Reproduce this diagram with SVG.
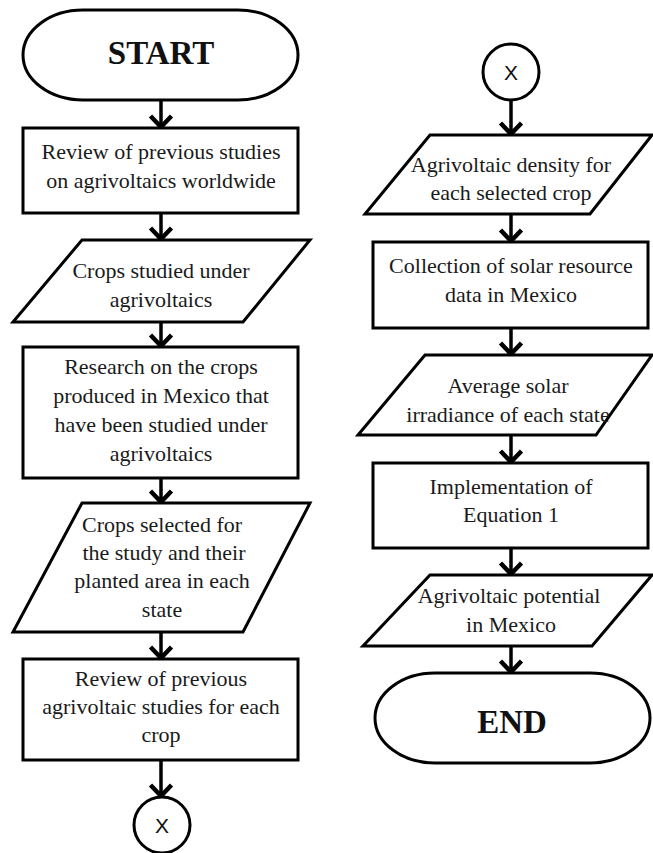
<svg xmlns="http://www.w3.org/2000/svg" width="653" height="853" viewBox="0 0 653 853">
  <defs>
    <marker id="chev" viewBox="0 -13 19 26" refX="15" refY="0" markerWidth="19" markerHeight="26" markerUnits="userSpaceOnUse" orient="auto">
      <path d="M3,-10.5 L14,0 L3,10.5" fill="none" stroke="#000" stroke-width="4.5" stroke-linejoin="miter"/>
    </marker>
  </defs>
  <style>
    .shape { fill: #fff; stroke: #000; stroke-width: 3; }
    .lbl { font-family: "Liberation Serif", "Times New Roman", serif; font-size: 22px; fill: #1a1a1a; text-anchor: middle; }
    .term { font-family: "Liberation Serif", "Times New Roman", serif; font-size: 33px; font-weight: bold; fill: #111; text-anchor: middle; }
    .conn-lbl { font-family: "Liberation Sans", Arial, sans-serif; font-size: 21px; fill: #111; text-anchor: middle; }
    .arrow { stroke: #000; stroke-width: 3.5; fill: none; marker-end: url(#chev); }
  </style>

  <rect width="653" height="853" fill="#fff"/>

  <!-- connectors -->
  <g id="connectors">
    <line class="arrow" x1="161" y1="100" x2="161" y2="128"/>
    <line class="arrow" x1="161" y1="213" x2="161" y2="240"/>
    <line class="arrow" x1="161" y1="322" x2="161" y2="347"/>
    <line class="arrow" x1="161" y1="478" x2="161" y2="503"/>
    <line class="arrow" x1="161" y1="632" x2="161" y2="659"/>
    <line class="arrow" x1="161" y1="760" x2="161" y2="797"/>

    <line class="arrow" x1="511" y1="100" x2="511" y2="135"/>
    <line class="arrow" x1="511" y1="214" x2="511" y2="242"/>
    <line class="arrow" x1="511" y1="328" x2="511" y2="355"/>
    <line class="arrow" x1="511" y1="435" x2="511" y2="463"/>
    <line class="arrow" x1="511" y1="548" x2="511" y2="575"/>
    <line class="arrow" x1="511" y1="646" x2="511" y2="673"/>
  </g>

  <!-- left column -->
  <g id="start">
    <rect class="shape" x="23" y="10" width="275" height="90" rx="60" ry="45"/>
    <text class="term" x="161" y="64">START</text>
  </g>

  <g id="review-worldwide">
    <rect class="shape" x="23" y="128" width="275" height="85"/>
    <text class="lbl" x="161" y="159">Review of previous studies</text>
    <text class="lbl" x="161" y="188">on agrivoltaics worldwide</text>
  </g>

  <g id="crops-studied">
    <polygon class="shape" points="82,240 310,240 243,322 13,322"/>
    <text class="lbl" x="161" y="278">Crops studied under</text>
    <text class="lbl" x="161" y="307">agrivoltaics</text>
  </g>

  <g id="research-mexico">
    <rect class="shape" x="23" y="347" width="275" height="131"/>
    <text class="lbl" x="161" y="374">Research on the crops</text>
    <text class="lbl" x="161" y="403">produced in Mexico that</text>
    <text class="lbl" x="161" y="432">have been studied under</text>
    <text class="lbl" x="161" y="461">agrivoltaics</text>
  </g>

  <g id="crops-selected">
    <polygon class="shape" points="82,503 310,503 243,632 13,632"/>
    <text class="lbl" x="162" y="532">Crops selected for</text>
    <text class="lbl" x="164" y="560">the study and their</text>
    <text class="lbl" x="162" y="588">planted area in each</text>
    <text class="lbl" x="162" y="617">state</text>
  </g>

  <g id="review-per-crop">
    <rect class="shape" x="23" y="659" width="275" height="101"/>
    <text class="lbl" x="161" y="686">Review of previous</text>
    <text class="lbl" x="161" y="714">agrivoltaic studies for each</text>
    <text class="lbl" x="161" y="742">crop</text>
  </g>

  <g id="connector-out">
    <circle class="shape" cx="162" cy="825" r="28"/>
    <text class="conn-lbl" x="162" y="833">X</text>
  </g>

  <!-- right column -->
  <g id="connector-in">
    <circle class="shape" cx="511" cy="72" r="28"/>
    <text class="conn-lbl" x="511" y="80">X</text>
  </g>

  <g id="density">
    <polygon class="shape" points="430,135 652,135 590,214 365,214"/>
    <text class="lbl" x="511" y="172">Agrivoltaic density for</text>
    <text class="lbl" x="511" y="200">each selected crop</text>
  </g>

  <g id="solar-data">
    <rect class="shape" x="373" y="242" width="275" height="86"/>
    <text class="lbl" x="511" y="273">Collection of solar resource</text>
    <text class="lbl" x="511" y="302">data in Mexico</text>
  </g>

  <g id="irradiance">
    <polygon class="shape" points="425,355 652,355 596,435 358,435"/>
    <text class="lbl" x="508" y="393">Average solar</text>
    <text class="lbl" x="508" y="422">irradiance of each state</text>
  </g>

  <g id="equation">
    <rect class="shape" x="373" y="463" width="275" height="85"/>
    <text class="lbl" x="511" y="494">Implementation of</text>
    <text class="lbl" x="511" y="522">Equation 1</text>
  </g>

  <g id="potential">
    <polygon class="shape" points="430,575 652,575 592,646 363,646"/>
    <text class="lbl" x="509" y="603">Agrivoltaic potential</text>
    <text class="lbl" x="511" y="632">in Mexico</text>
  </g>

  <g id="end">
    <rect class="shape" x="375" y="673" width="275" height="90" rx="60" ry="45"/>
    <text class="term" x="512" y="733">END</text>
  </g>
</svg>
